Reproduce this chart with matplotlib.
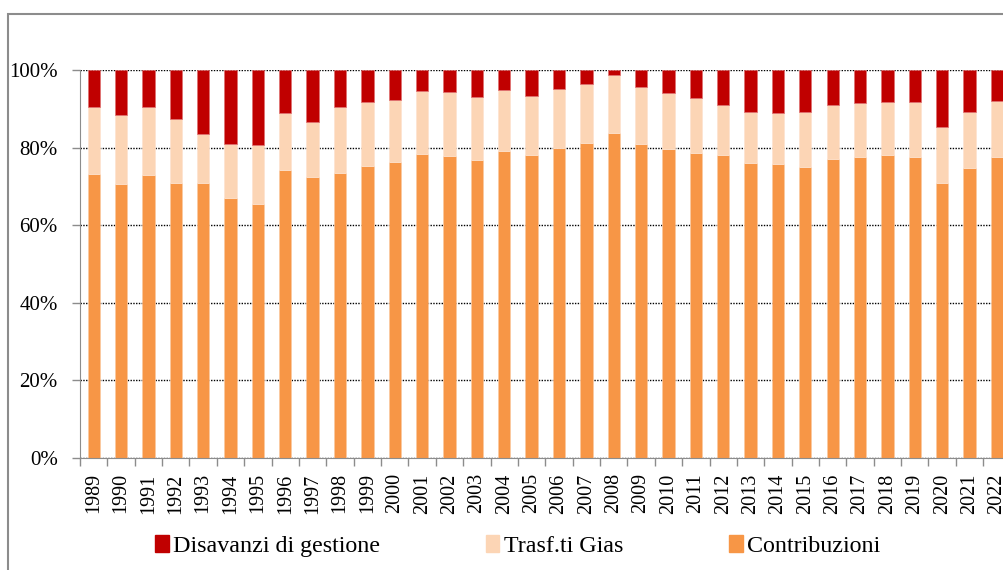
import matplotlib
matplotlib.use("Agg")
import matplotlib.pyplot as plt
import numpy as np
from matplotlib.patches import Patch, Rectangle
from matplotlib.ticker import FuncFormatter

# Data (percent shares of each year)
years = [str(y) for y in range(1989, 2023)]
contribuzioni = [73.2, 70.7, 72.9, 71.0, 71.0, 67.1, 65.5, 74.1, 72.3, 73.5,
                 75.3, 76.2, 78.4, 77.8, 76.9, 79.0, 78.1, 79.9, 81.3, 83.7,
                 81.0, 79.7, 78.7, 78.0, 76.0, 75.8, 75.1, 77.1, 77.6, 78.0,
                 77.7, 70.8, 74.7, 77.6]
# top of the "Trasf.ti Gias" block (= contribuzioni + trasferimenti)
trasf_top = [90.5, 88.4, 90.4, 87.3, 83.4, 80.9, 80.7, 88.9, 86.6, 90.5,
             91.7, 92.2, 94.5, 94.3, 93.0, 94.8, 93.4, 95.2, 96.4, 98.7,
             95.5, 94.0, 92.7, 91.1, 89.3, 88.9, 89.3, 90.9, 91.4, 91.7,
             91.8, 85.2, 89.3, 92.0]

contrib = np.array(contribuzioni)
trasf = np.array(trasf_top) - contrib
disav = 100 - np.array(trasf_top)

c_contrib = '#F79646'
c_trasf = '#FCD5B5'
c_disav = '#C00000'

plt.rcParams['font.family'] = ['Liberation Serif', 'DejaVu Serif']

fig = plt.figure(figsize=(10.04, 5.70), dpi=100)

# outer chart border (cut off at the right side like the reference)
fig.patches.append(Rectangle((8.5 / 1004, -0.1), 1.2, 1.1 - 14 / 570,
                             transform=fig.transFigure, fill=False,
                             edgecolor='#8c8c8c', linewidth=1.5))

ax = fig.add_axes([80 / 1004, 112 / 570, 930.6 / 1004, 388 / 570])

x = np.arange(len(years))
w = 0.45
ax.bar(x, contrib, w, color=c_contrib, edgecolor='#fbc9a0', linewidth=0.5)
ax.bar(x, trasf, w, bottom=contrib, color=c_trasf, edgecolor='#fde3cf', linewidth=0.5)
ax.bar(x, disav, w, bottom=contrib + trasf, color=c_disav, edgecolor='#e07070', linewidth=0.5)

ax.set_xlim(-0.5, len(years) - 0.5)
ax.set_ylim(0, 100)
ax.set_yticks(np.arange(0, 101, 20))
ax.yaxis.set_major_formatter(FuncFormatter(lambda v, p: f'{v:.0f}%'))
ax.yaxis.grid(True, color='black', linestyle=(0, (1, 1)), linewidth=1)
ax.set_axisbelow(True)

ax.set_xticks(x)
ax.set_xticklabels(years, rotation=90, fontsize=14.5)
ax.set_xticks(np.arange(-0.5, len(years), 1), minor=True)
ax.tick_params(axis='x', which='major', length=0, pad=11)
ax.tick_params(axis='x', which='minor', length=6, color='#8c8c8c', width=1)
ax.tick_params(axis='y', length=6, color='#8c8c8c', width=1, labelsize=15, pad=10)

for side in ['top', 'right']:
    ax.spines[side].set_visible(False)
ax.spines['left'].set_color('#8c8c8c')
ax.spines['bottom'].set_color('#8c8c8c')

handles = [Patch(color=c_disav, label='Disavanzi di gestione'),
           Patch(color=c_trasf, label='Trasf.ti Gias'),
           Patch(color=c_contrib, label='Contribuzioni')]
fig.legend(handles=handles, loc='center', bbox_to_anchor=(518 / 1004, 1 - 546 / 570),
           ncol=3, frameon=False, fontsize=17.3, handlelength=0.55, handleheight=0.7,
           handletextpad=0.2, columnspacing=4.4)

fig.savefig('out.png', dpi=100)
